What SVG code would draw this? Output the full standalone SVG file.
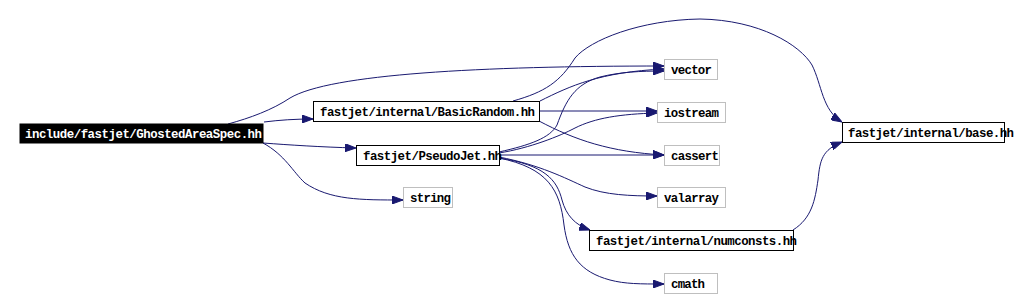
<svg xmlns="http://www.w3.org/2000/svg" width="1020" height="298" viewBox="0 0 1020 298">
<style>
.e{fill:none;stroke:#191970;stroke-width:1}
.n{fill:#ffffff;stroke:#000000;stroke-width:1}
.s{fill:#ffffff;stroke:#bfbfbf;stroke-width:1}
.t{font-family:"Liberation Mono","DejaVu Sans Mono",monospace;font-weight:bold;font-size:12.4px;fill:#000000}
.w{fill:#ffffff}
</style>
<defs>
<marker id="a" markerWidth="11" markerHeight="8" refX="11" refY="4" orient="auto" markerUnits="userSpaceOnUse">
<path d="M0,0 L11,4 L0,8 z" fill="#191970" stroke="#191970" stroke-width="1"/>
</marker>
</defs>
<rect width="1020" height="298" fill="#ffffff"/>
<g id="edges">
<path class="e" marker-end="url(#a)" d="M264,122 C280,120 295,119 313,119"/>
<path class="e" marker-end="url(#a)" d="M228,124 C250,118 272,110 290,98 C330,74 480,66 664,66"/>
<path class="e" marker-end="url(#a)" d="M263,143 C290,145 320,147 356,148"/>
<path class="e" marker-end="url(#a)" d="M263,143 C285,155 293,172 305,183 C330,200 360,200 403,200"/>
<path class="e" marker-end="url(#a)" d="M540,101 C570,86 600,72 664,69"/>
<path class="e" marker-end="url(#a)" d="M539,111 L657,111"/>
<path class="e" marker-end="url(#a)" d="M539,121 C575,140 610,152 664,155"/>
<path class="e" marker-end="url(#a)" d="M513,101 C545,92 560,82 575,58 C590,40 640,20 700,19 C760,20 800,45 812,65 C822,85 822,110 842,122"/>
<path class="e" marker-end="url(#a)" d="M499,152 C530,145 550,138 557,125 C566,100 575,84 600,77 C620,72 640,71 664,71"/>
<path class="e" marker-end="url(#a)" d="M499,153 C530,148 560,136 575,128 C595,118 620,114 657,113"/>
<path class="e" marker-end="url(#a)" d="M499,155 L664,155"/>
<path class="e" marker-end="url(#a)" d="M499,157 C540,165 565,178 585,187 C605,195 630,196 657,196"/>
<path class="e" marker-end="url(#a)" d="M499,158 C545,165 557,180 562,200 C566,215 575,225 590,230"/>
<path class="e" marker-end="url(#a)" d="M499,158 C548,168 560,190 564,225 C568,255 580,272 610,280 C625,284 640,284 664,284"/>
<path class="e" marker-end="url(#a)" d="M793,230 C812,218 815,200 818,180 C820,160 822,150 842,142"/>
</g>
<g id="node-root">
<rect x="20" y="124" width="243" height="19" fill="#000000" stroke="#000000"/>
<text class="t w" x="25" y="138" textLength="237">include/fastjet/GhostedAreaSpec.hh</text>
</g>
<g id="node-basicrandom">
<rect class="n" x="313.5" y="101.5" width="226" height="20"/>
<text class="t" x="320" y="116" textLength="215">fastjet/internal/BasicRandom.hh</text>
</g>
<g id="node-pseudojet">
<rect class="n" x="356.5" y="145.5" width="143" height="20"/>
<text class="t" x="363" y="160" textLength="139">fastjet/PseudoJet.hh</text>
</g>
<g id="node-string">
<rect class="s" x="403.5" y="187.5" width="49" height="20"/>
<text class="t" x="410" y="202" textLength="41">string</text>
</g>
<g id="node-vector">
<rect class="s" x="664.5" y="59.5" width="53" height="20"/>
<text class="t" x="671" y="74" textLength="41">vector</text>
</g>
<g id="node-iostream">
<rect class="s" x="657.5" y="102.5" width="68" height="20"/>
<text class="t" x="664" y="117" textLength="55">iostream</text>
</g>
<g id="node-cassert">
<rect class="s" x="664.5" y="145.5" width="55" height="20"/>
<text class="t" x="671" y="160" textLength="48">cassert</text>
</g>
<g id="node-valarray">
<rect class="s" x="657.5" y="187.5" width="68" height="20"/>
<text class="t" x="664" y="202" textLength="55">valarray</text>
</g>
<g id="node-numconsts">
<rect class="n" x="589.5" y="230.5" width="204" height="20"/>
<text class="t" x="596" y="245" textLength="201">fastjet/internal/numconsts.hh</text>
</g>
<g id="node-cmath">
<rect class="s" x="664.5" y="273.5" width="53" height="20"/>
<text class="t" x="671" y="288" textLength="34">cmath</text>
</g>
<g id="node-base">
<rect class="n" x="842.5" y="122.5" width="162" height="20"/>
<text class="t" x="848" y="137" textLength="166">fastjet/internal/base.hh</text>
</g>
</svg>
